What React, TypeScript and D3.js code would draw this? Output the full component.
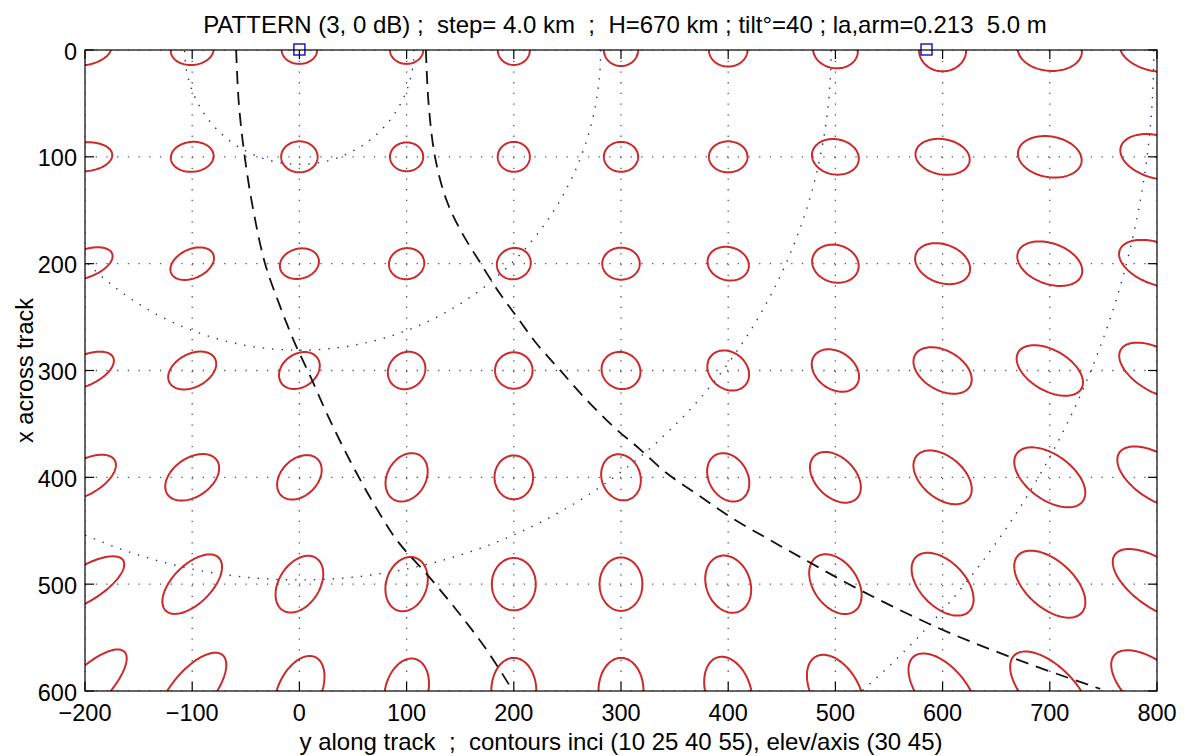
import React from 'react';
import * as d3 from 'd3';

// ---- axes / ticks ----
const alongTicks = [-200, -100, 0, 100, 200, 300, 400, 500, 600, 700, 800];
const acrossTicks = [0, 100, 200, 300, 400, 500, 600];

// ---- footprint ellipses (rows = across-track 0..600, cols = along-track -200..800) ----
const ellipseMajor = [
  [25, 20, 16.5, 15.5, 15, 16, 18, 21, 22, 30, 35],
  [25.5, 20, 17, 15.5, 15, 16, 18, 22, 25.5, 30, 35],
  [27, 21.5, 18.5, 16.5, 16, 17.5, 19.5, 22, 26.5, 31.5, 37],
  [29, 24, 20.5, 18.5, 17.5, 18.5, 21, 24, 29.5, 34, 39],
  [32, 28, 24, 24, 20.5, 22, 24, 28, 31.5, 38, 42],
  [42, 35, 29, 26, 24.5, 25, 27.5, 31, 35.5, 40, 48],
  [52, 44, 35, 31, 31, 31, 33, 37, 42, 47, 52],
];
const ellipseMinor = [
  [14, 14, 13, 13, 14, 15, 15.5, 17, 20, 19.5, 20],
  [13.5, 14, 14.5, 13.5, 14, 14, 14.5, 16.5, 16.5, 19, 20],
  [13, 13.5, 14, 14.5, 14.5, 15, 15.5, 17.5, 18, 19, 19.5],
  [14, 15.5, 15.5, 16.5, 17, 17, 17, 17.5, 18.5, 19, 20],
  [16, 18, 17, 18, 18, 18, 18, 18.5, 19.5, 21, 21],
  [16, 18, 19, 19, 20.5, 20, 20.5, 20.5, 21, 22, 22],
  [18, 19, 20, 20, 21, 21, 21, 22, 22, 23, 24],
];
const ellipseTilt = [
  [-10, -5, 0, 0, 0, 0, 0, 10, 0, 5, 10],
  [-5, -5, 0, 0, 0, 0, 0, 10, 10, 10, 15],
  [-20, -25, -15, -10, -20, 0, 15, 15, 20, 20, 20],
  [-25, -28, -35, -45, 0, 30, 40, 35, 30, 30, 30],
  [-30, -35, -45, -60, 90, 70, 60, 45, 40, 36, 33],
  [-32, -45, -58, -72, 90, 90, 70, 55, 46, 42, 35],
  [-45, -50, -65, -75, 90, 90, 72, 60, 50, 45, 40],
];

// ---- dotted range circles (radius, km) ----
const circleRadii = [107, 281, 496, 797];

// ---- dashed curves: [along, across] ----
const dashedA: [number, number][] = [
  [-59, 0], [-56.5, 50], [-51, 100], [-43, 150], [-32, 200], [-18, 240], [-4, 275],
  [10, 305], [25.5, 340], [47, 384], [69, 424], [91, 459], [120, 492], [148, 526],
  [175, 562], [198, 598],
];
const dashedB: [number, number][] = [
  [118, 0], [120.5, 50], [126.5, 100], [137, 140], [151, 170], [168, 198], [187, 228],
  [203, 250], [221, 274.5], [243, 299.5], [268, 327.6], [293, 352.6], [318, 374],
  [342.5, 396], [374, 418], [405, 439], [436, 457], [466, 474], [524, 506], [596, 541],
  [668, 570], [747, 598],
];

// ---- blue square markers [along, across] ----
const markers: [number, number][] = [[0, 0], [585, 0]];

const titleText = 'PATTERN (3, 0 dB) ;  step= 4.0 km  ;  H=670 km ; tilt\u00b0=40 ; la,arm=0.213  5.0 m';
const xLabelText = 'y along track  ;  contours inci (10 25 40 55), elev/axis (30 45)';
const yLabelText = 'x across track';

const FONT = '"Liberation Sans", Arial, Helvetica, sans-serif';

export default function App() {
  const W = 1185, H = 756;
  const L = 85, R = 1157, T = 50, B = 691;
  const xs = d3.scaleLinear().domain([-200, 800]).range([L, R]);
  const ys = d3.scaleLinear().domain([0, 600]).range([T, B]);

  const ell = (yc: number, xc: number, a: number, b: number, th: number) => {
    const t = (th * Math.PI) / 180;
    const pts = d3.range(0, 360, 3).map((d) => {
      const u = (d * Math.PI) / 180;
      return [
        yc + a * Math.cos(t) * Math.cos(u) - b * Math.sin(t) * Math.sin(u),
        xc + a * Math.sin(t) * Math.cos(u) + b * Math.cos(t) * Math.sin(u),
      ] as [number, number];
    });
    return d3.line<[number, number]>().x((p) => xs(p[0])).y((p) => ys(p[1])).curve(d3.curveLinearClosed)(pts) || '';
  };

  const dashLine = d3.line<[number, number]>().x((p) => xs(p[0])).y((p) => ys(p[1])).curve(d3.curveCatmullRom);
  const fmt = (v: number) => (v < 0 ? '\u2212' + Math.abs(v) : String(v));
  const tickLen = 9;

  return (
    <svg width={W} height={H} style={{ position: 'absolute', left: 0, top: 0, background: '#fff' }} fontFamily={FONT}>
      <defs>
        <clipPath id="plotclip">
          <rect x={L} y={T} width={R - L} height={B - T} />
        </clipPath>
      </defs>
      <rect x={0} y={0} width={W} height={H} fill="#fff" />
      <g clipPath="url(#plotclip)">
        {/* grid */}
        {alongTicks.map((v) => (
          <line key={'gv' + v} x1={xs(v)} x2={xs(v)} y1={T} y2={B} stroke="#555" strokeWidth={1.3} strokeDasharray="1.3 9.4" />
        ))}
        {acrossTicks.map((v) => (
          <line key={'gh' + v} x1={L} x2={R} y1={ys(v)} y2={ys(v)} stroke="#555" strokeWidth={1.3} strokeDasharray="1.3 9.4" />
        ))}
        {/* range circles */}
        {circleRadii.map((r) => (
          <ellipse key={'c' + r} cx={xs(0)} cy={ys(0)} rx={xs(r) - xs(0)} ry={ys(r) - ys(0)} fill="none" stroke="#25306e" strokeWidth={1.4} strokeDasharray="1.4 8" />
        ))}
        {/* ellipses */}
        {acrossTicks.map((xr, i) =>
          alongTicks.map((yc, j) => (
            <path key={'e' + i + '_' + j} d={ell(yc, xr, ellipseMajor[i][j], ellipseMinor[i][j], ellipseTilt[i][j])} fill="none" stroke="#cc2a2a" strokeWidth={2} />
          ))
        )}
        {/* dashed curves */}
        <path d={dashLine(dashedA) || ''} fill="none" stroke="#111" strokeWidth={1.8} strokeDasharray="13 8" />
        <path d={dashLine(dashedB) || ''} fill="none" stroke="#111" strokeWidth={1.8} strokeDasharray="13 8" />
      </g>
      {/* markers */}
      {markers.map((m, i) => (
        <rect key={'m' + i} x={xs(m[0]) - 5.5} y={ys(m[1]) - 6} width={11} height={11} fill="none" stroke="#1c1cc8" strokeWidth={1.5} />
      ))}
      {/* axes box */}
      <rect x={L} y={T} width={R - L} height={B - T} fill="none" stroke="#000" strokeWidth={1.2} />
      {/* ticks */}
      {alongTicks.map((v) => (
        <g key={'tx' + v}>
          <line x1={xs(v)} x2={xs(v)} y1={B} y2={B - tickLen} stroke="#000" strokeWidth={1.2} />
          <line x1={xs(v)} x2={xs(v)} y1={T} y2={T + tickLen} stroke="#000" strokeWidth={1.2} />
          <text x={xs(v)} y={721} textAnchor="middle" fontSize={23.5} fill="#000">{fmt(v)}</text>
        </g>
      ))}
      {acrossTicks.map((v) => (
        <g key={'ty' + v}>
          <line x1={L} x2={L + tickLen} y1={ys(v)} y2={ys(v)} stroke="#000" strokeWidth={1.2} />
          <line x1={R} x2={R - tickLen} y1={ys(v)} y2={ys(v)} stroke="#000" strokeWidth={1.2} />
          <text x={77} y={ys(v) + 9.5} textAnchor="end" fontSize={23.5} fill="#000">{fmt(v)}</text>
        </g>
      ))}
      {/* labels */}
      <text x={625} y={33} textAnchor="middle" fontSize={24} fill="#000" style={{ whiteSpace: 'pre' }}>{titleText}</text>
      <text x={621} y={750} textAnchor="middle" fontSize={24} fill="#000" style={{ whiteSpace: 'pre' }}>{xLabelText}</text>
      <text transform={`translate(33, ${ys(300)}) rotate(-90)`} textAnchor="middle" fontSize={23.5} fill="#000">{yLabelText}</text>
    </svg>
  );
}
